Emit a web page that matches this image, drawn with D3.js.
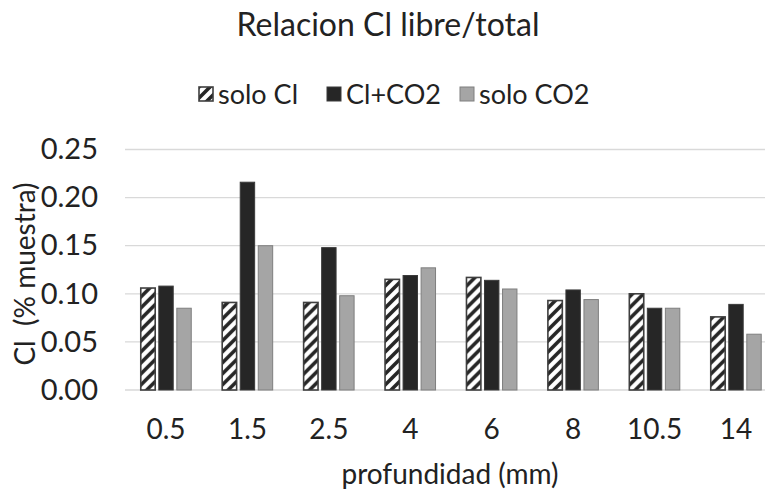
<!DOCTYPE html>
<html><head><meta charset="utf-8">
<script src="https://cdn.jsdelivr.net/npm/d3@7"></script>
<style>body{margin:0;background:#fff}svg{display:block;font-family:Lato,"Open Sans",sans-serif}</style>
</head><body><svg id="c" width="765" height="492"></svg>
<script>
const categories = ["0.5","1.5","2.5","4","6","8","10.5","14"];
const seriesNames = ["solo Cl","Cl+CO2","solo CO2"];
const soloCl  = [0.106,0.091,0.091,0.115,0.117,0.093,0.100,0.076];
const clCO2   = [0.108,0.216,0.148,0.119,0.114,0.104,0.085,0.089];
const soloCO2 = [0.085,0.150,0.098,0.127,0.105,0.094,0.085,0.058];
const yTicks = [0,0.05,0.10,0.15,0.20,0.25];
const seriesValues = [soloCl, clCO2, soloCO2];

const svg = d3.select("#c");
const defs = svg.append("defs");
const P = 11;
const pat = defs.append("pattern").attr("id","hatch").attr("patternUnits","userSpaceOnUse")
  .attr("width",P).attr("height",P);
pat.append("rect").attr("width",P).attr("height",P).attr("fill","#fff");
pat.append("path").attr("d",`M-3,3 L3,-3 M0,${P} L${P},0 M${P-3},${P+3} L${P+3},${P-3}`)
  .attr("stroke","#262626").attr("stroke-width",3.6);

const fills = ["url(#hatch)","#262626","#a5a5a5"];
const strokes = ["#3f3f3f","#3a3a3a","#7f7f7f"];

const x0 = d3.scaleBand().domain(categories).range([125.3,776.7]).paddingInner(0.38).paddingOuter(0.19);
const x1 = d3.scaleBand().domain(seriesNames).range([0,x0.bandwidth()]).paddingInner(0.2);
const y = d3.scaleLinear().domain([0,0.25]).range([390,149.5]);

// gridlines
svg.append("g").selectAll("line").data(yTicks).join("line")
  .attr("x1",125).attr("x2",765).attr("y1",d=>y(d)).attr("y2",d=>y(d))
  .attr("stroke","#d9d9d9").attr("stroke-width",1.3);

// y axis labels
const yAxis = d3.axisLeft(y).tickValues(yTicks).tickFormat(d3.format(".2f")).tickSize(0).tickPadding(0);
const gy = svg.append("g").attr("transform","translate(98,0)").call(yAxis);
gy.select(".domain").remove();
gy.selectAll("text").attr("font-size",29).attr("fill","#222").attr("font-family","Lato");

// x axis labels
const xAxis = d3.axisBottom(x0).tickSize(0).tickPadding(0);
const gx = svg.append("g").attr("transform","translate(0,419)").call(xAxis);
gx.select(".domain").remove();
gx.selectAll("text").attr("font-size",28).attr("fill","#222").attr("font-family","Lato").attr("dy","0.72em");

// bars
const groups = svg.append("g").selectAll("g").data(categories).join("g")
  .attr("transform",d=>`translate(${x0(d)},0)`);
groups.selectAll("rect").data((d,i)=>seriesNames.map((s,j)=>({s,j,v:seriesValues[j][i]}))).join("rect")
  .attr("x",d=>x1(d.s)).attr("width",x1.bandwidth())
  .attr("y",d=>y(d.v)).attr("height",d=>y(0)-y(d.v))
  .attr("fill",d=>fills[d.j]).attr("stroke",d=>strokes[d.j]).attr("stroke-width",d=>d.j===0?1.6:1);

// title
svg.append("text").attr("x",388).attr("y",36).attr("text-anchor","middle")
  .attr("font-size",32).attr("fill","#222").text("Relacion Cl libre/total");

// legend
const legX = [199,327,460];
const leg = svg.append("g").selectAll("g").data(seriesNames).join("g")
  .attr("transform",(d,i)=>`translate(${legX[i]},87)`);
leg.append("rect").attr("width",14).attr("height",14)
  .attr("fill",(d,i)=>fills[i]).attr("stroke",(d,i)=>strokes[i]).attr("stroke-width",(d,i)=>i===0?1.6:1);
leg.append("text").attr("x",19).attr("y",17).attr("font-size",27).attr("fill","#222").text(d=>d);

// axis titles
svg.append("text").attr("transform","translate(35,274) rotate(-90)").attr("text-anchor","middle")
  .style("white-space","pre")
  .attr("font-size",28).attr("fill","#222").text("Cl  (% muestra)");
svg.append("text").attr("x",450).attr("y",484).attr("text-anchor","middle")
  .attr("font-size",28).attr("fill","#222").text("profundidad (mm)");
</script></body></html>
